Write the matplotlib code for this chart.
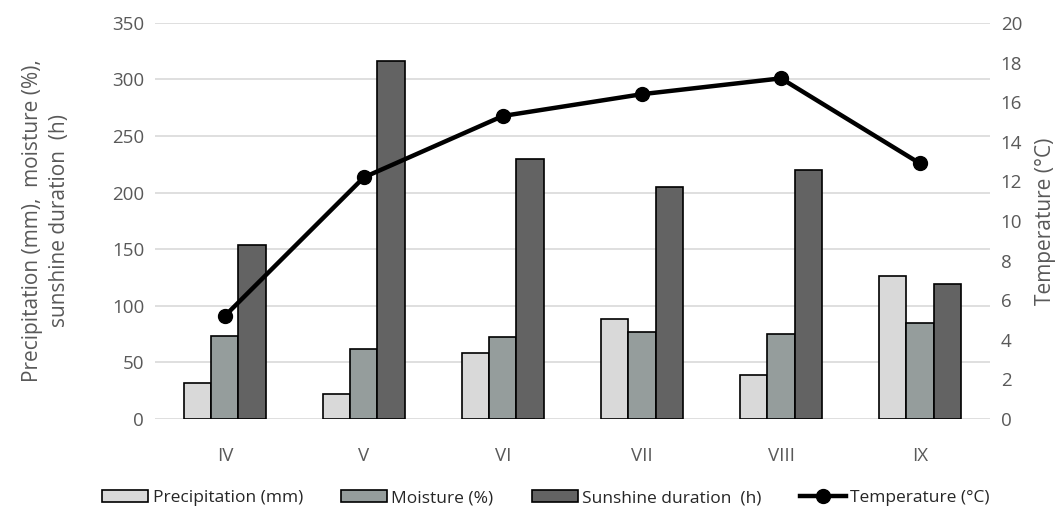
import matplotlib.pyplot as plt
import numpy as np

plt.rcParams['font.family'] = ['Open Sans', 'DejaVu Sans']

months = ["IV", "V", "VI", "VII", "VIII", "IX"]
precipitation = [32, 22, 58, 88, 39, 126]
moisture = [73, 62, 72, 77, 75, 85]
sunshine = [154, 316, 230, 205, 220, 119]
temperature = [5.2, 12.2, 15.3, 16.4, 17.2, 12.9]

text_col = '#595959'
x = np.arange(len(months))
w = 0.195

fig = plt.figure(figsize=(10.64, 5.09), dpi=100)
ax = fig.add_axes([0.146, 0.177, 0.784, 0.778])
ax2 = ax.twinx()

b1 = ax.bar(x - w, precipitation, w, color='#d9d9d9', edgecolor='black', linewidth=1.2,
            label='Precipitation (mm)', zorder=2)
b2 = ax.bar(x, moisture, w, color='#959d9c', edgecolor='black', linewidth=1.2,
            label='Moisture (%)', zorder=2)
b3 = ax.bar(x + w, sunshine, w, color='#636363', edgecolor='black', linewidth=1.2,
            label='Sunshine duration  (h)', zorder=2)
l1, = ax2.plot(x, temperature, color='black', linewidth=3.2, marker='o', markersize=10,
               label='Temperature (°C)', zorder=3)

ax.set_xlim(-0.5, len(months) - 0.5)
ax.set_ylim(0, 350)
ax.set_yticks(range(0, 351, 50))
ax2.set_ylim(0, 20)
ax2.set_yticks(range(0, 21, 2))
ax.set_xticks(x)
ax.set_xticklabels(months)

ax.grid(axis='y', color='#d9d9d9', linewidth=1.2, zorder=0)
ax.set_axisbelow(True)
for a in (ax, ax2):
    for s in ('top', 'left', 'right', 'bottom'):
        a.spines[s].set_visible(False)
    a.tick_params(length=0, labelsize=13.5, colors=text_col, pad=8)
ax.tick_params(axis='x', pad=20)

ax.set_ylabel('Precipitation (mm),  moisture (%),\nsunshine duration  (h)', fontsize=15,
              color=text_col, labelpad=30, multialignment='center', linespacing=1.4)
ax2.set_ylabel('Temperature (°C)', fontsize=15, color=text_col, labelpad=9)

fig.legend(handles=[b1, b2, b3, l1], loc='lower center', bbox_to_anchor=(0.513, -0.025),
           ncol=4, frameon=False, fontsize=12.5, labelcolor='#262626',
           handlelength=2.65, handletextpad=0.25, columnspacing=2.2)

fig.savefig('out.png', dpi=100)
